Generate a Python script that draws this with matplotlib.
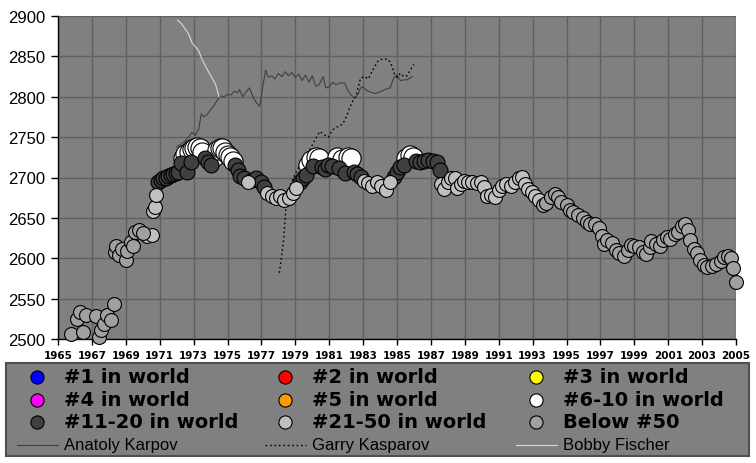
import matplotlib.pyplot as plt
from matplotlib.patches import Rectangle

# rating history: year, rating, world-rank bucket
# w = #6-10, d = #11-20, l = #21-50, b = below #50
years = [1965.75, 1966.15, 1966.3, 1966.5, 1966.65, 1967.25, 1967.4, 1967.55, 1967.7, 1967.9,
         1968.15, 1968.3, 1968.35, 1968.45, 1968.6, 1968.8, 1969.0, 1969.1, 1969.3, 1969.45,
         1969.55, 1969.75, 1970.0, 1970.25, 1970.55, 1970.6, 1970.7, 1970.8, 1970.9, 1971.05,
         1971.2, 1971.35, 1971.5, 1971.65, 1971.8, 1971.95, 1972.1, 1972.25, 1972.35, 1972.5,
         1972.6, 1972.7, 1972.85, 1972.9, 1973.05, 1973.2, 1973.35, 1973.5, 1973.65, 1973.85,
         1974.05, 1974.2, 1974.4, 1974.55, 1974.7, 1974.85, 1975.0, 1975.15, 1975.3, 1975.45,
         1975.6, 1975.75, 1975.95, 1976.2, 1976.45, 1976.7, 1976.95, 1977.15, 1977.35, 1977.6,
         1977.85, 1978.1, 1978.35, 1978.6, 1978.85, 1979.05, 1979.25, 1979.45, 1979.65, 1979.75,
         1979.9, 1980.05, 1980.2, 1980.4, 1980.55, 1980.75, 1980.95, 1981.15, 1981.45, 1981.6,
         1981.75, 1981.95, 1982.1, 1982.3, 1982.45, 1982.65, 1982.85, 1983.05, 1983.3, 1983.55,
         1983.8, 1984.05, 1984.35, 1984.6, 1984.8, 1985.0, 1985.2, 1985.4, 1985.55, 1985.75,
         1985.95, 1986.1, 1986.35, 1986.6, 1986.85, 1987.1, 1987.35, 1987.55, 1987.6, 1987.8,
         1988.0, 1988.2, 1988.4, 1988.55, 1988.75, 1988.95, 1989.2, 1989.45, 1989.7, 1989.95,
         1990.15, 1990.3, 1990.55, 1990.8, 1991.0, 1991.2, 1991.45, 1991.7, 1991.95, 1992.2,
         1992.35, 1992.55, 1992.75, 1992.95, 1993.15, 1993.35, 1993.6, 1993.8, 1994.1, 1994.3,
         1994.5, 1994.7, 1995.0, 1995.2, 1995.4, 1995.7, 1996.0, 1996.2, 1996.4, 1996.7,
         1996.9, 1997.1, 1997.2, 1997.4, 1997.7, 1997.9, 1998.1, 1998.4, 1998.6, 1998.8,
         1999.0, 1999.3, 1999.5, 1999.7, 1999.9, 2000.0, 2000.3, 2000.5, 2000.7, 2000.9,
         2001.1, 2001.4, 2001.6, 2001.8, 2002.0, 2002.15, 2002.3, 2002.5, 2002.7, 2002.9,
         2003.1, 2003.3, 2003.6, 2003.8, 2004.1, 2004.3, 2004.5, 2004.7, 2004.85, 2005.0]
ratings = [2506, 2525, 2533, 2509, 2530, 2528, 2503, 2511, 2519, 2530,
           2524, 2543, 2608, 2615, 2604, 2612, 2598, 2609, 2620, 2615,
           2633, 2635, 2631, 2627, 2629, 2659, 2664, 2678, 2695, 2697,
           2699, 2700, 2702, 2703, 2704, 2705, 2707, 2718, 2724, 2729,
           2707, 2732, 2719, 2735, 2737, 2738, 2736, 2731, 2724, 2719,
           2716, 2726, 2734, 2737, 2736, 2732, 2728, 2725, 2720, 2715,
           2709, 2702, 2700, 2694, 2697, 2699, 2694, 2688, 2681, 2677,
           2675, 2677, 2672, 2674, 2681, 2687, 2695, 2699, 2703, 2716,
           2722, 2714, 2726, 2724, 2713, 2711, 2716, 2714, 2726, 2712,
           2723, 2706, 2726, 2724, 2707, 2704, 2701, 2696, 2693, 2690,
           2694, 2689, 2684, 2695, 2701, 2707, 2713, 2716, 2724, 2728,
           2726, 2720, 2719, 2721, 2722, 2721, 2719, 2709, 2692, 2686,
           2694, 2700, 2699, 2687, 2692, 2696, 2695, 2694, 2693, 2695,
           2688, 2677, 2678, 2676, 2684, 2690, 2692, 2689, 2694, 2699,
           2701, 2692, 2686, 2682, 2677, 2672, 2666, 2668, 2676, 2679,
           2676, 2670, 2666, 2660, 2657, 2653, 2650, 2645, 2643, 2642,
           2638, 2628, 2618, 2622, 2619, 2610, 2606, 2603, 2610, 2617,
           2615, 2614, 2608, 2605, 2614, 2621, 2618, 2615, 2622, 2626,
           2624, 2630, 2633, 2640, 2642, 2635, 2622, 2612, 2606, 2598,
           2592, 2589, 2590, 2593, 2597, 2601, 2603, 2600, 2588, 2571]
ranks = (['b'] * 23 + ['l'] * 5 + ['d'] * 10 + ['w', 'w', 'd', 'w', 'd'] + ['w'] * 5
         + ['d'] * 3 + ['w'] * 8 + ['d'] * 4 + ['l'] + ['d'] * 4 + ['l'] * 8 + ['d'] * 3
         + ['w', 'w', 'd', 'w', 'w', 'd', 'd', 'd', 'd', 'w', 'd', 'w', 'd', 'w', 'w']
         + ['d'] * 3 + ['l'] * 7 + ['d'] * 4 + ['w'] * 3 + ['d'] * 7 + ['l'] * 28 + ['b'] * 54)

karpov_years = [1972.0, 1972.3, 1972.5, 1972.7, 1972.9, 1973.1, 1973.3, 1973.45, 1973.6, 1973.8,
                1974.0, 1974.2, 1974.4, 1974.6, 1974.8, 1975.0, 1975.2, 1975.4, 1975.6, 1975.7,
                1975.9, 1976.1, 1976.3, 1976.5, 1976.6, 1976.8, 1976.9, 1977.1, 1977.25, 1977.4,
                1977.6, 1977.8, 1978.0, 1978.2, 1978.4, 1978.6, 1978.8, 1979.0, 1979.2, 1979.4,
                1979.6, 1979.8, 1980.0, 1980.2, 1980.4, 1980.65, 1980.8, 1981.0, 1981.2, 1981.4,
                1981.6, 1981.9, 1982.1, 1982.3, 1982.5, 1982.7, 1982.85, 1983.0, 1983.2, 1983.4,
                1983.7, 1984.0, 1984.2, 1984.4, 1984.6, 1984.8, 1985.0, 1985.2, 1985.4, 1985.6,
                1985.9]
karpov_ratings = [2738, 2742, 2745, 2750, 2756, 2752, 2760, 2779, 2775, 2778,
                  2784, 2789, 2796, 2801, 2800, 2803, 2802, 2807, 2805, 2809,
                  2800, 2806, 2811, 2800, 2796, 2790, 2788, 2815, 2833, 2824,
                  2826, 2822, 2829, 2825, 2831, 2826, 2830, 2824, 2828, 2820,
                  2827, 2818, 2826, 2813, 2815, 2825, 2811, 2812, 2818, 2815,
                  2817, 2817, 2808, 2802, 2798, 2803, 2811, 2812, 2808, 2806,
                  2804, 2806, 2808, 2810, 2811, 2823, 2827, 2820, 2821, 2821,
                  2825]

kasparov_years = [1978.05, 1978.15, 1978.3, 1978.4, 1978.5, 1978.7, 1979.0, 1979.4, 1979.8, 1980.0,
                  1980.2, 1980.45, 1980.7, 1980.95, 1981.2, 1981.5, 1981.8, 1982.0, 1982.2, 1982.4,
                  1982.6, 1982.75, 1982.85, 1983.1, 1983.3, 1983.5, 1983.7, 1983.9, 1984.2, 1984.5,
                  1984.7, 1984.85, 1985.0, 1985.2, 1985.4, 1985.6, 1985.8, 1986.0]
kasparov_ratings = [2582, 2595, 2620, 2650, 2675, 2690, 2705, 2720, 2732, 2740,
                    2748, 2757, 2753, 2750, 2759, 2763, 2766, 2775, 2786, 2795,
                    2802, 2815, 2823, 2825, 2822, 2830, 2838, 2845, 2847, 2846,
                    2838, 2828, 2824, 2829, 2825, 2826, 2834, 2840]

fischer_years = [1972.05, 1972.3, 1972.5, 1972.7, 1972.9, 1973.1, 1973.3, 1973.5, 1973.7, 1973.9,
                 1974.1, 1974.3, 1974.5]
fischer_ratings = [2895, 2890, 2884, 2878, 2867, 2862, 2857, 2846, 2838, 2830,
                   2823, 2815, 2800]

cat_codes = ['1', '2', '3', '4', '5', 'w', 'd', 'l', 'b']
cat_labels = ['#1 in world', '#2 in world', '#3 in world',
              '#4 in world', '#5 in world', '#6-10 in world',
              '#11-20 in world', '#21-50 in world', 'Below #50']
cat_colors = ['#0000ff', '#ff0000', '#ffff00', '#ff00ff', '#ff9900',
              '#ffffff', '#404040', '#c0c0c0', '#a0a0a0']
cat_sizes = [190, 190, 190, 190, 190, 190, 115, 100, 100]

line_labels = ['Anatoly Karpov', 'Garry Kasparov', 'Bobby Fischer']
line_colors = ['#404040', '#000000', '#d8d8d8']
line_styles = ['-', (0, (1.2, 2)), '-']
line_widths = [0.8, 1.0, 0.8]

fig = plt.figure(figsize=(7.56, 4.64), dpi=100)
ax = fig.add_axes([58 / 756, 1 - 340 / 464, 678 / 756, 323 / 464])
ax.set_facecolor('#808080')

for (lx, ly), c, ls, lw in zip([(karpov_years, karpov_ratings), (kasparov_years, kasparov_ratings),
                                (fischer_years, fischer_ratings)], line_colors, line_styles, line_widths):
    ax.plot(lx, ly, color=c, linestyle=ls, linewidth=lw, zorder=2)

for code, c, s in zip(cat_codes, cat_colors, cat_sizes):
    xs = [x for x, r in zip(years, ranks) if r == code]
    ys = [y for y, r in zip(ratings, ranks) if r == code]
    if xs:
        ax.scatter(xs, ys, s=s, c=c, edgecolors='black', linewidths=0.8,
                   zorder=3, clip_on=False)

ax.set_xlim(1965, 2005)
ax.set_ylim(2500, 2900)
ax.set_xticks(range(1965, 2006, 2))
ax.set_yticks(range(2500, 2901, 50))
ax.grid(True, color='#606060', linewidth=1)
ax.set_axisbelow(True)
for side in ['top', 'right']:
    ax.spines[side].set_visible(False)
for side in ['left', 'bottom']:
    ax.spines[side].set_color('black')
    ax.spines[side].set_linewidth(1)
ax.tick_params(axis='y', length=5, width=1, pad=4, labelsize=12)
ax.tick_params(axis='x', length=4, width=1, pad=4, labelsize=7.5)
for t in ax.get_yticklabels():
    t.set_family('Liberation Sans')
for t in ax.get_xticklabels():
    t.set_fontweight('bold')

# legend box drawn by hand, in pixel units of the figure
lax = fig.add_axes([0, 0, 1, 1])
lax.set_xlim(0, 756)
lax.set_ylim(464, 0)
lax.axis('off')
lax.add_patch(Rectangle((5.5, 363.5), 743, 93, facecolor='#808080',
                        edgecolor='#505050', linewidth=1.5))
col_x = [17, 265, 516]
row_y = [378, 401, 423, 446]
for i, (lab, c) in enumerate(zip(cat_labels, cat_colors)):
    x0, y0 = col_x[i % 3], row_y[i // 3]
    lax.plot(x0 + 20, y0, 'o', markersize=9.5, markerfacecolor=c,
             markeredgecolor='black', markeredgewidth=0.8)
    lax.text(x0 + 47, y0, lab, fontsize=14, fontweight='bold', va='center', color='black')
for i, (lab, c, ls, lw) in enumerate(zip(line_labels, line_colors, line_styles, line_widths)):
    x0, y0 = col_x[i], row_y[3]
    lax.plot([x0, x0 + 41], [y0, y0], color=c, linestyle=ls, linewidth=lw)
    lax.text(x0 + 47, y0, lab, fontsize=12, family='Liberation Sans', va='center', color='black')

fig.savefig('out.png', dpi=100)
